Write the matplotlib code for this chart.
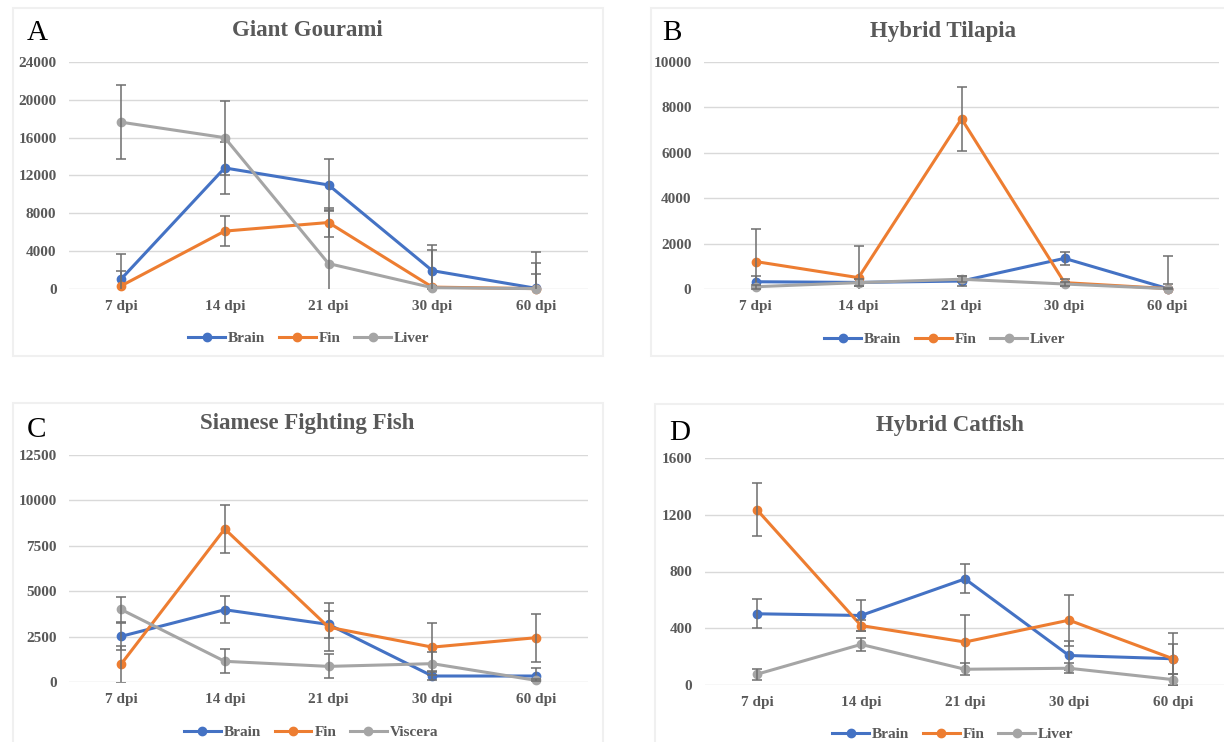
import matplotlib.pyplot as plt
from matplotlib.patches import Rectangle
from matplotlib.lines import Line2D

days = ['7 dpi', '14 dpi', '21 dpi', '30 dpi', '60 dpi']

# A - Giant Gourami
gg_brain = [1030, 12800, 11000, 1940, 70]
gg_brain_err = [2650, 2730, 2700, 2720, 3850]
gg_fin = [320, 6120, 7030, 200, 40]
gg_fin_err = [1590, 1570, 1570, 150, 2740]
gg_liver = [17640, 16000, 2690, 140, 40]
gg_liver_err = [3920, 3900, 5580, 3960, 1500]

# B - Hybrid Tilapia
ht_brain = [320, 290, 350, 1350, 20]
ht_brain_err = [250, 150, 220, 300, 200]
ht_fin = [1210, 500, 7500, 280, 20]
ht_fin_err = [1430, 1410, 1400, 150, 1430]
ht_liver = [100, 280, 430, 220, 15]
ht_liver_err = [80, 150, 140, 100, 30]

# C - Siamese Fighting Fish
sf_brain = [2510, 3980, 3170, 330, 330]
sf_brain_err = [760, 740, 750, 220, 440]
sf_fin = [970, 8430, 3020, 1920, 2440]
sf_fin_err = [1000, 1300, 1340, 1320, 1320]
sf_visc = [4000, 1140, 860, 1010, 90]
sf_visc_err = [670, 660, 660, 640, 50]

# D - Hybrid Catfish
hc_brain = [502, 490, 748, 208, 185]
hc_brain_err = [103, 111, 103, 105, 104]
hc_fin = [1235, 419, 303, 457, 185]
hc_fin_err = [186, 40, 187, 180, 184]
hc_liver = [76, 286, 111, 118, 38]
hc_liver_err = [40, 45, 41, 35, 42]

W, H = 1224, 742
colors = ['#4472C4', '#ED7D31', '#A5A5A5']
txt = '#595959'
plt.rcParams['font.family'] = ['Liberation Serif', 'DejaVu Serif']

fig = plt.figure(figsize=(W / 100, H / 100), dpi=100)


def fx(x):
    return x / W


def fy(y):
    return 1 - y / H


def panel(box, area, letter, letter_xy, title, title_xy, ymax, ystep,
          names, vals, errs, leg_xy):
    x0, y0, x1, y1 = box
    fig.add_artist(Rectangle((fx(x0), fy(y1)), (x1 - x0) / W, (y1 - y0) / H,
                             transform=fig.transFigure, facecolor='white',
                             edgecolor='#F0F0F0', lw=1.5, zorder=0))
    ax0, ay0, ax1, ay1 = area
    ax = fig.add_axes([fx(ax0), fy(ay1), (ax1 - ax0) / W, (ay1 - ay0) / H])
    ax.set_facecolor('none')
    xs = list(range(len(days)))
    for i, (n, v, e) in enumerate(zip(names, vals, errs)):
        ax.plot(xs, v, color=colors[i], lw=2.2, marker='o', ms=6,
                zorder=2 + i, clip_on=False, label=n)
        ax.errorbar(xs, v, yerr=e, fmt='none', ecolor='#6E6E6E', elinewidth=1.1,
                    capsize=3.5, capthick=1.1, zorder=2.5 + i)
    ax.set_xlim(-0.5, len(days) - 0.5)
    ax.set_ylim(0, ymax)
    ax.set_yticks(range(0, ymax + 1, ystep))
    ax.set_xticks(xs)
    ax.set_xticklabels(days)
    ax.grid(axis='y', color='#D9D9D9', lw=1)
    ax.set_axisbelow(True)
    for s in ax.spines.values():
        s.set_visible(False)
    ax.tick_params(length=0, labelcolor=txt, labelsize=11)
    ax.tick_params(axis='y', pad=9)
    ax.tick_params(axis='x', pad=8)
    for lab in ax.get_xticklabels() + ax.get_yticklabels():
        lab.set_fontweight('bold')
    fig.text(fx(title_xy[0]), fy(title_xy[1]), title, ha='center', va='center',
             fontsize=16.5, fontweight='bold', color=txt)
    fig.text(fx(letter_xy[0]), fy(letter_xy[1]), letter, ha='center', va='center',
             fontsize=21, color='black')
    handles = [Line2D([], [], color=colors[i], lw=2.2, marker='o', ms=6)
               for i in range(3)]
    fig.legend(handles, names, loc='center', bbox_to_anchor=(fx(leg_xy[0]), fy(leg_xy[1])),
               ncol=3, frameon=False, handlelength=2.4, handletextpad=0.2,
               columnspacing=0.9, prop={'weight': 'bold', 'size': 11},
               labelcolor=txt, borderaxespad=0, borderpad=0)


panel((13, 8, 603, 356), (69, 62, 588, 289), 'A', (37, 33), 'Giant Gourami', (307, 31),
      24000, 4000, ['Brain', 'Fin', 'Liver'],
      [gg_brain, gg_fin, gg_liver], [gg_brain_err, gg_fin_err, gg_liver_err], (309, 338))

panel((651, 8, 1230, 356), (704, 62, 1219, 289), 'B', (672, 33), 'Hybrid Tilapia', (943, 31),
      10000, 2000, ['Brain', 'Fin', 'Liver'],
      [ht_brain, ht_fin, ht_liver], [ht_brain_err, ht_fin_err, ht_liver_err], (945, 339))

panel((13, 403, 603, 750), (69, 455, 588, 682), 'C', (37, 430), 'Siamese Fighting Fish', (307, 424),
      12500, 2500, ['Brain', 'Fin', 'Viscera'],
      [sf_brain, sf_fin, sf_visc], [sf_brain_err, sf_fin_err, sf_visc_err], (311, 732))

panel((655, 404, 1230, 750), (705, 458, 1225, 685), 'D', (680, 433), 'Hybrid Catfish', (950, 425),
      1600, 400, ['Brain', 'Fin', 'Liver'],
      [hc_brain, hc_fin, hc_liver], [hc_brain_err, hc_fin_err, hc_liver_err], (953, 734))

fig.savefig('out.png', dpi=100)
